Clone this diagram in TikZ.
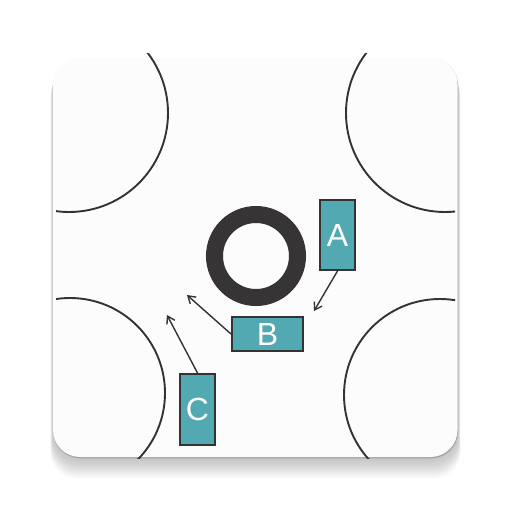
\documentclass[tikz,border=0pt]{standalone}
\usepackage{fontspec}
\setmainfont{Liberation Sans}
\usetikzlibrary{arrows.meta}
\definecolor{ringgray}{HTML}{363435}
\definecolor{linegray}{HTML}{333333}
\definecolor{boxteal}{HTML}{52A9B2}
\definecolor{cardfill}{HTML}{FCFCFC}
\tikzset{
  box/.style={draw=linegray, line width=2pt, fill=boxteal, text=white, inner sep=0pt,
    font=\fontsize{32}{36}\selectfont},
  pointer/.style={draw=linegray, line width=1.4pt, -{Straight Barb[length=7pt,width=9pt]}},
  rim/.style={draw=linegray, line width=1.9pt}
}
\begin{document}
\begin{tikzpicture}[x=1pt,y=-1pt]
        \useasboundingbox (0,0) rectangle (512,512);
        % card with shadow
        \foreach \d in {1,...,22}
          \fill[black, opacity=0.012, rounded corners=27pt] (53-\d*0.12,58+\d*0.6) rectangle (458+\d*0.12,457+\d);
        \fill[black, opacity=0.18, rounded corners=27pt] (53.3,58) rectangle (458,458.3);
        \fill[cardfill, rounded corners=27pt] (53,57.5) rectangle (457.5,457);
        \begin{scope}
          \clip (56,53) rectangle (455,458);
          \draw[rim] (69,113) circle (99pt);
          \draw[rim] (445,113) circle (99pt);
          \draw[rim] (70,393) circle (95pt);
          \draw[rim] (440,395) circle (96pt);
        \end{scope}
        \draw[ringgray, line width=17pt] (256,256) circle (41.5pt);
        \node[box, minimum width=35pt, minimum height=70pt] (A) at (337.5,235) {A};
        \node[box, minimum width=71pt, minimum height=34pt] (B) at (267.5,334) {B};
        \node[box, minimum width=35pt, minimum height=71pt] (C) at (197.5,409.5) {C};
        \coordinate (pa) at (314,311);
        \coordinate (pb) at (187,295);
        \coordinate (pc) at (167,315);
        \draw[pointer] (A.south) -- (pa);
        \draw[pointer] (B.west) -- (pb);
        \draw[pointer] (C.north) -- (pc);
    \end{tikzpicture}
\end{document}
